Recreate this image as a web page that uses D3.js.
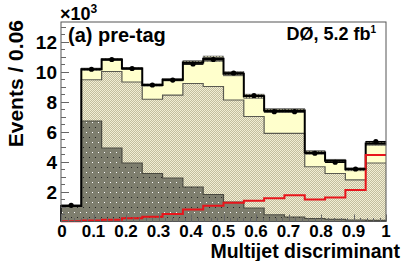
<!DOCTYPE html>
<html>
<head>
<meta charset="utf-8">
<script src="https://cdn.jsdelivr.net/npm/d3@7/dist/d3.min.js"></script>
<style>
  body { margin: 0; background: #fff; }
  svg { display: block; }
  text { font-family: "Liberation Sans", Arial, sans-serif; font-weight: bold; fill: #000; }
</style>
</head>
<body>
<svg id="chart" width="407" height="261"></svg>
<script>
// bin low edges (16 bins of width 0.0625), values in units of 10^3 events
const binLow = [0, 0.0625, 0.125, 0.1875, 0.25, 0.3125, 0.375, 0.4375, 0.5, 0.5625, 0.625, 0.6875, 0.75, 0.8125, 0.875, 0.9375];
const binWidth = 0.0625;
const multijet = [1.03, 6.7, 4.9, 3.9, 3.2, 2.9, 2.3, 1.8, 1.3, 0.9, 0.45, 0.3, 0.2, 0.15, 0.1, 0.08];
const wjets = [0, 2.75, 5.1, 5.4, 4.95, 5.53, 6.9, 7.2, 6.8, 6.1, 5.43, 5.58, 3.45, 3.05, 2.67, 3.82];
const other = [0, 0.7, 0.8, 0.9, 0.95, 1.02, 1.4, 1.85, 1.75, 1.35, 1.52, 1.52, 0.95, 0.85, 0.71, 1.3];
const bkgUnc = [0.03, 0.08, 0.08, 0.08, 0.08, 0.08, 0.12, 0.18, 0.14, 0.14, 0.12, 0.12, 0.12, 0.1, 0.1, 0.12];
const dataVals = [1.08, 10.15, 10.8, 10.2, 9.1, 9.43, 10.5, 10.8, 9.9, 8.4, 7.32, 7.32, 4.55, 3.95, 3.5, 5.32];
const signal = [0.02, 0.06, 0.12, 0.22, 0.32, 0.5, 0.8, 1.05, 1.25, 1.38, 1.55, 1.75, 1.47, 1.6, 2.1, 4.43];
const xTicks = [0, 0.1, 0.2, 0.3, 0.4, 0.5, 0.6, 0.7, 0.8, 0.9, 1];
const xTickLabels = ["0", "0.1", "0.2", "0.3", "0.4", "0.5", "0.6", "0.7", "0.8", "0.9", "1"];
const yTicks = [2, 4, 6, 8, 10, 12];

const svg = d3.select("#chart");
const padL = 61, padR = 386, padT = 22, padB = 221.5;

const x = d3.scaleLinear().domain([0, 1]).range([padL, padR]);
const y = d3.scaleLinear().domain([0, 13.3]).range([padB, padT]);

// patterns
const defs = svg.append("defs");
const pDark = defs.append("pattern").attr("id", "pDark").attr("patternUnits", "userSpaceOnUse")
  .attr("width", 6).attr("height", 10);
pDark.append("rect").attr("width", 6).attr("height", 10).attr("fill", "#7e7e6e");
pDark.append("rect").attr("x", 2).attr("y", 2).attr("width", 1).attr("height", 1).attr("fill", "#fff");
pDark.append("rect").attr("x", 5).attr("y", 7).attr("width", 1).attr("height", 1).attr("fill", "#222");

const pBeige = defs.append("pattern").attr("id", "pBeige").attr("patternUnits", "userSpaceOnUse")
  .attr("width", 2).attr("height", 2);
pBeige.append("rect").attr("width", 2).attr("height", 2).attr("fill", "#f2eed4");
pBeige.append("rect").attr("x", 1).attr("y", 0).attr("width", 1).attr("height", 1).attr("fill", "#c2be9e");
pBeige.append("rect").attr("x", 0).attr("y", 1).attr("width", 1).attr("height", 1).attr("fill", "#c2be9e");

const pBand = defs.append("pattern").attr("id", "pBand").attr("patternUnits", "userSpaceOnUse")
  .attr("width", 3).attr("height", 3);
pBand.append("rect").attr("width", 3).attr("height", 3).attr("fill", "#f4f2c8");
pBand.append("rect").attr("width", 1).attr("height", 3).attr("fill", "#6e6e60");
pBand.append("rect").attr("width", 3).attr("height", 1).attr("fill", "#6e6e60");

// stacked backgrounds
const rows = binLow.map((lo, i) => ({ lo, multijet: multijet[i], wjets: wjets[i], other: other[i] }));
const keys = ["multijet", "wjets", "other"];
const fills = { multijet: "url(#pDark)", wjets: "url(#pBeige)", other: "#ffffcc" };
const lineCol = { multijet: "#4a4a40", wjets: "#5a5a50", other: "#000" };
const stacked = d3.stack().keys(keys)(rows);

const plot = svg.append("g");

stacked.forEach((layer) => {
  plot.append("g").selectAll("rect")
    .data(layer)
    .join("rect")
    .attr("shape-rendering", "crispEdges")
    .attr("x", (d) => x(d.data.lo))
    .attr("width", (d) => x(d.data.lo + binWidth) - x(d.data.lo))
    .attr("y", (d) => y(d[1]))
    .attr("height", (d) => Math.max(0, y(d[0]) - y(d[1])))
    .attr("fill", fills[layer.key]);
});

// step outlines
function stepPts(vals) {
  const pts = [[0, 0]];
  vals.forEach((v, i) => { pts.push([binLow[i], v]); pts.push([binLow[i] + binWidth, v]); });
  return pts;
}
const stepLine = d3.line().x((d) => x(d[0])).y((d) => y(d[1]));

stacked.forEach((layer) => {
  if (layer.key === "other") return;
  plot.append("path")
    .attr("d", stepLine(stepPts(layer.map((d) => d[1]))))
    .attr("fill", "none")
    .attr("stroke", lineCol[layer.key])
    .attr("stroke-width", 1.2);
});

// uncertainty band on total
const totals = stacked[2].map((d) => d[1]);
plot.append("g").selectAll("rect")
  .data(totals)
  .join("rect")
  .attr("x", (d, i) => x(binLow[i]))
  .attr("width", (d, i) => x(binLow[i] + binWidth) - x(binLow[i]))
  .attr("y", (d, i) => y(d + bkgUnc[i]))
  .attr("height", (d, i) => y(d - bkgUnc[i]) - y(d + bkgUnc[i]))
  .attr("fill", "url(#pBand)")
  .attr("stroke", "#555")
  .attr("stroke-width", 0.6);

plot.append("path")
  .attr("d", stepLine(stepPts(totals)))
  .attr("fill", "none")
  .attr("stroke", "#000")
  .attr("stroke-width", 2);

// signal
plot.append("path")
  .attr("d", stepLine(stepPts(signal).slice(1)))
  .attr("fill", "none")
  .attr("stroke", "#e8151b")
  .attr("stroke-width", 2);

// data points
const dg = plot.append("g");
dataVals.forEach((v, i) => {
  const cx = x(binLow[i] + binWidth / 2);
  dg.append("line")
    .attr("x1", x(binLow[i])).attr("x2", x(binLow[i] + binWidth))
    .attr("y1", y(v)).attr("y2", y(v))
    .attr("stroke", "#000").attr("stroke-width", 1.5);
  dg.append("line")
    .attr("x1", cx).attr("x2", cx)
    .attr("y1", y(v + 0.1)).attr("y2", y(v - 0.1))
    .attr("stroke", "#000").attr("stroke-width", 1.5);
  dg.append("circle").attr("cx", cx).attr("cy", y(v)).attr("r", 2.6).attr("fill", "#000");
});

// frame
svg.append("rect")
  .attr("x", padL).attr("y", padT)
  .attr("width", padR - padL).attr("height", padB - padT)
  .attr("fill", "none").attr("stroke", "#555").attr("stroke-width", 1);

// y ticks (inward)
const yAxis = svg.append("g").attr("stroke", "#666").attr("stroke-width", 1);
d3.range(0.5, 13.3, 0.5).forEach((t) => {
  const major = yTicks.includes(t);
  const len = major ? 8 : (Number.isInteger(t) ? 5 : 4);
  yAxis.append("line").attr("x1", padL).attr("x2", padL + len)
    .attr("y1", Math.round(y(t)) + 0.5).attr("y2", Math.round(y(t)) + 0.5);
});
svg.append("g").selectAll("text")
  .data(yTicks)
  .join("text")
  .attr("x", 57)
  .attr("y", (d) => y(d) + 7)
  .attr("text-anchor", "end")
  .attr("font-size", 19)
  .text((d) => d);

// x ticks (inward)
const xAxis = svg.append("g").attr("stroke", "#666").attr("stroke-width", 1);
d3.range(0, 1.0001, 0.02).forEach((t) => {
  const major = Math.abs(t * 10 - Math.round(t * 10)) < 1e-6;
  const len = major ? 7 : 3.5;
  xAxis.append("line").attr("x1", Math.round(x(t)) + 0.5).attr("x2", Math.round(x(t)) + 0.5)
    .attr("y1", padB).attr("y2", padB - len);
});
svg.append("g").selectAll("text")
  .data(xTicks)
  .join("text")
  .attr("x", (d) => x(d) + (d === 0 ? 1 : 0))
  .attr("y", 236.5)
  .attr("text-anchor", "middle")
  .attr("font-size", 17)
  .text((d, i) => xTickLabels[i]);

// axis titles
svg.append("text")
  .attr("x", 400).attr("y", 258)
  .attr("text-anchor", "end")
  .attr("font-size", 19.5)
  .text("Multijet discriminant");

svg.append("text")
  .attr("transform", "translate(23,20) rotate(-90)")
  .attr("text-anchor", "end")
  .attr("font-size", 21)
  .text("Events / 0.06");

// exponent
const ex = svg.append("text").attr("x", 60).attr("y", 20).attr("font-size", 18).attr("font-weight", "normal");
ex.append("tspan").text("×10");
ex.append("tspan").attr("font-size", 12).attr("dy", -7).text("3");

// labels
svg.append("text")
  .attr("x", 68).attr("y", 42)
  .attr("font-size", 20)
  .text("(a) pre-tag");

const dz = svg.append("text").attr("x", 376).attr("y", 40).attr("text-anchor", "end").attr("font-size", 18);
dz.append("tspan").text("DØ, 5.2 fb");
dz.append("tspan").attr("font-size", 10).attr("dy", -7).text("1");
</script>
</body>
</html>
